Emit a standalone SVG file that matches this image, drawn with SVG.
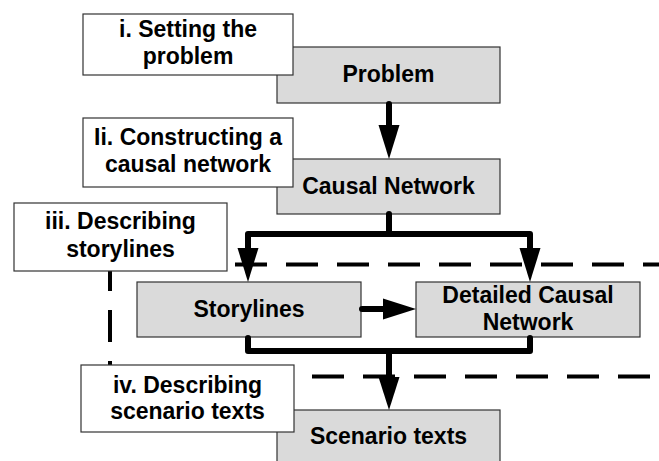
<svg xmlns="http://www.w3.org/2000/svg" width="659" height="461" viewBox="0 0 659 461">
  <defs>
    <style>
      .step { fill: #dadada; stroke: #333333; stroke-width: 1.2; }
      .label { fill: #ffffff; stroke: #333333; stroke-width: 1.2; }
      text { font-family: "Liberation Sans", Arial, sans-serif; font-weight: bold; font-size: 23px; fill: #000000; text-anchor: middle; }
      .flow { fill: none; stroke: #000000; stroke-width: 6; stroke-linecap: round; stroke-linejoin: round; }
      .zone { fill: none; stroke: #000000; stroke-width: 4; stroke-dasharray: 32 19; }
      .head { fill: #000000; }
    </style>
  </defs>

  <!-- dashed region around the storyline stage -->
  <g id="stage-zone">
    <line class="zone" x1="235" y1="264.5" x2="659" y2="264.5"/>
    <line class="zone" x1="261" y1="376.5" x2="659" y2="376.5"/>
    <line class="zone" x1="110" y1="259" x2="110" y2="366"/>
  </g>

  <!-- process steps -->
  <g id="problem">
    <rect class="step" x="277" y="47" width="223" height="56"/>
    <text x="388.5" y="82">Problem</text>
  </g>
  <g id="causal-network">
    <rect class="step" x="277" y="159" width="223" height="55"/>
    <text x="388.5" y="194">Causal Network</text>
  </g>
  <g id="storylines">
    <rect class="step" x="137" y="282" width="224" height="55"/>
    <text x="249" y="317">Storylines</text>
  </g>
  <g id="detailed-causal-network">
    <rect class="step" x="416" y="282" width="224" height="55"/>
    <text x="528" y="303">Detailed Causal</text>
    <text x="528" y="330">Network</text>
  </g>
  <g id="scenario-texts">
    <rect class="step" x="277" y="410" width="223" height="60"/>
    <text x="388.5" y="444">Scenario texts</text>
  </g>

  <!-- stage labels -->
  <g id="label-i">
    <rect class="label" x="83" y="14" width="210" height="61"/>
    <text x="188" y="37">i. Setting the</text>
    <text x="188" y="63.5">problem</text>
  </g>
  <g id="label-ii">
    <rect class="label" x="83" y="118" width="210" height="69"/>
    <text x="188" y="145">Ii. Constructing a</text>
    <text x="188" y="172">causal network</text>
  </g>
  <g id="label-iii">
    <rect class="label" x="14" y="203" width="213" height="68"/>
    <text x="120.5" y="229">iii. Describing</text>
    <text x="120.5" y="256.5">storylines</text>
  </g>
  <g id="label-iv">
    <rect class="label" x="81" y="365" width="213" height="67"/>
    <text x="187.5" y="393">iv. Describing</text>
    <text x="187.5" y="419">scenario texts</text>
  </g>

  <!-- connectors -->
  <g id="connectors">
    <line class="flow" x1="389" y1="104" x2="389" y2="128"/>
    <polygon class="head" points="378.5,125 399.5,125 389,159"/>

    <path class="flow" d="M389,214 V234 M248,250 V234 H530 V250"/>
    <polygon class="head" points="237.5,248 258.5,248 248,282"/>
    <polygon class="head" points="519.5,248 540.5,248 530,282"/>

    <line class="flow" x1="362" y1="309" x2="386" y2="309"/>
    <polygon class="head" points="383,298.5 383,319.5 416,309"/>

    <path class="flow" d="M248,338 V351 H530 V338 M389,351 V380"/>
    <polygon class="head" points="378.5,377 399.5,377 389,410"/>
  </g>
</svg>
